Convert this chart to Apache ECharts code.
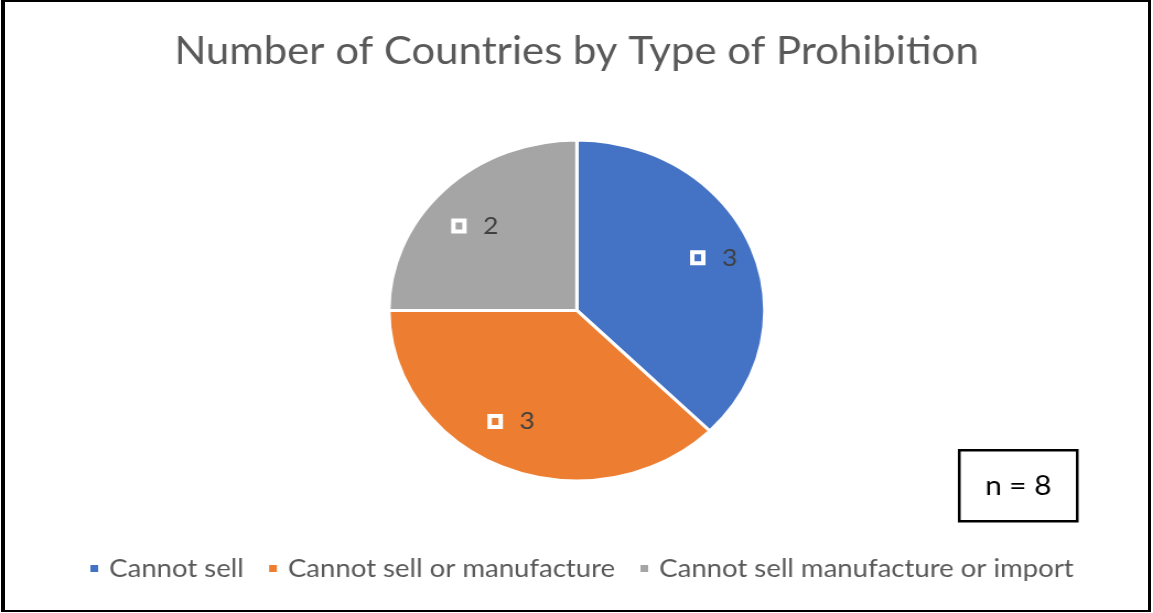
<!DOCTYPE html>
<html>
<head>
<meta charset="utf-8">
<script src="https://cdn.jsdelivr.net/npm/echarts@6/dist/echarts.min.js"></script>
<style>
  html, body { margin: 0; padding: 0; background: #fff; }
  #wrap { position: relative; width: 1153px; height: 613px; overflow: hidden; background: #fff; }
  /* chart is laid out in a narrower box and widened, giving the oval pie */
  #chart { position: absolute; left: 0; top: 0; width: 1046px; height: 613px; transform: scaleX(1.1023); transform-origin: 0 0; }
  #frame { position: absolute; left: 1px; top: 0; right: 2px; bottom: 1px; border-style: solid; border-color: #000; border-width: 2px 3px 2px 4px; pointer-events: none; }
</style>
</head>
<body>
<div id="wrap">
  <div id="chart"></div>
  <div id="frame"></div>
</div>
<script>
// Prohibition types and how many countries fall under each
const chartTitle = 'Number of Countries by Type of Prohibition';
const categories = ['Cannot sell', 'Cannot sell or manufacture', 'Cannot sell manufacture or import'];
const countries = [3, 3, 2];
const sampleNote = 'n = 8';
const sliceColors = ['#4472C4', '#ED7D31', '#A5A5A5'];
// nudges for the value labels so they sit where the layout puts them
const labelOffsets = [[3, -2], [-8, -11], [2, 9]];

const font = 'Lato, "Open Sans", sans-serif';
const pieData = categories.map((name, i) => ({ name, value: countries[i], itemStyle: { color: sliceColors[i] } }));

const chart = echarts.init(document.getElementById('chart'), null, { renderer: 'canvas' });
chart.setOption({
  animation: false,
  title: {
    text: chartTitle,
    left: 'center',
    top: 28,
    textStyle: { fontFamily: font, fontSize: 38, fontWeight: 'normal', color: '#595959' }
  },
  legend: {
    data: categories,
    bottom: 27,
    left: 75,
    icon: 'rect',
    itemWidth: 9,
    itemHeight: 9,
    itemGap: 21,
    textStyle: { fontFamily: font, fontSize: 25, color: '#595959', padding: [0, 0, 0, 4] }
  },
  graphic: [{
    type: 'group',
    left: 869,
    top: 449,
    children: [
      { type: 'rect', shape: { x: 0, y: 0, width: 107, height: 71 }, style: { fill: '#fff', stroke: '#000', lineWidth: 2.5 } },
      { type: 'text', x: 53.5, y: 36, style: { text: sampleNote, fill: '#000', font: '27px ' + font, textAlign: 'center', textVerticalAlign: 'middle' } }
    ]
  }],
  series: [
    {
      type: 'pie',
      center: [523.3, 310.4],
      radius: 170.5,
      startAngle: 90,
      clockwise: true,
      label: { show: false },
      labelLine: { show: false },
      itemStyle: { borderColor: '#fff', borderWidth: 3 },
      emphasis: { disabled: true },
      data: pieData
    },
    {
      // transparent ring that carries the value labels partway out from the centre
      type: 'pie',
      center: [523.3, 310.4],
      radius: [88, 170.5],
      startAngle: 90,
      clockwise: true,
      silent: true,
      legendHoverLink: false,
      itemStyle: { color: 'rgba(0,0,0,0)' },
      emphasis: { disabled: true },
      labelLine: { show: false },
      label: {
        show: true,
        position: 'inside',
        formatter: '{box|}{gap|}{v|{c}}',
        rich: {
          box: { width: 10, height: 11, borderColor: '#fff', borderWidth: 2, backgroundColor: 'transparent' },
          gap: { width: 17 },
          v: { fontFamily: font, fontSize: 24, color: '#404040' }
        }
      },
      data: categories.map((name, i) => ({ name, value: countries[i], label: { offset: labelOffsets[i] } }))
    }
  ]
});
</script>
</body>
</html>
